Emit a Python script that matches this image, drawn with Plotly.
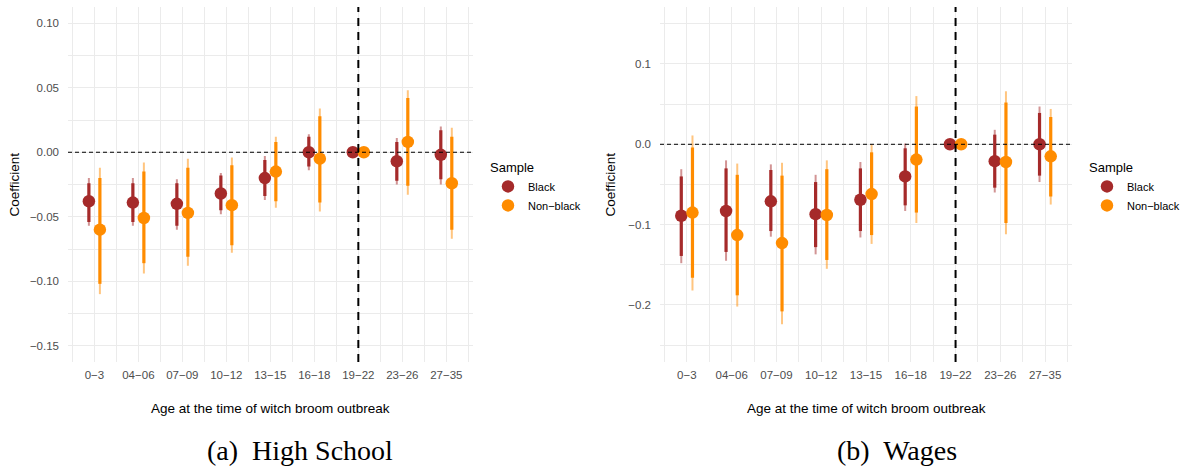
import plotly.graph_objects as go
import math

nan = float("nan")

categories = ["0\u22123", "04\u221206", "07\u221209", "10\u221212", "13\u221215",
              "16\u221218", "19\u221222", "23\u221226", "27\u221235"]

# Panel (a) High School
hs_black_coef = [-0.038, -0.039, -0.040, -0.032, -0.020, 0.000, 0.000, -0.007, -0.002]
hs_black_lo90 = [-0.054, -0.054, -0.057, -0.045, -0.034, -0.011, nan, -0.022, -0.021]
hs_black_hi90 = [-0.024, -0.024, -0.024, -0.018, -0.006, 0.012, nan, 0.008, 0.017]
hs_black_lo95 = [-0.057, -0.057, -0.060, -0.048, -0.037, -0.014, nan, -0.025, -0.025]
hs_black_hi95 = [-0.020, -0.020, -0.021, -0.016, -0.003, 0.014, nan, 0.011, 0.020]

hs_other_coef = [-0.060, -0.051, -0.047, -0.041, -0.015, -0.005, 0.000, 0.008, -0.024]
hs_other_lo90 = [-0.102, -0.086, -0.081, -0.072, -0.038, -0.039, nan, -0.026, -0.060]
hs_other_hi90 = [-0.020, -0.015, -0.012, -0.010, 0.008, 0.028, nan, 0.042, 0.012]
hs_other_lo95 = [-0.110, -0.094, -0.088, -0.078, -0.043, -0.046, nan, -0.033, -0.067]
hs_other_hi95 = [-0.012, -0.008, -0.005, -0.004, 0.012, 0.034, nan, 0.048, 0.019]

# Panel (b) Wages
w_black_coef = [-0.089, -0.083, -0.071, -0.087, -0.069, -0.040, 0.000, -0.021, 0.000]
w_black_lo90 = [-0.139, -0.134, -0.108, -0.128, -0.108, -0.076, nan, -0.054, -0.039]
w_black_hi90 = [-0.040, -0.030, -0.032, -0.047, -0.030, -0.005, nan, 0.012, 0.039]
w_black_lo95 = [-0.148, -0.145, -0.115, -0.137, -0.116, -0.083, nan, -0.060, -0.047]
w_black_hi95 = [-0.031, -0.020, -0.025, -0.038, -0.022, 0.001, nan, 0.018, 0.047]

w_other_coef = [-0.085, -0.113, -0.123, -0.088, -0.062, -0.019, 0.000, -0.022, -0.015]
w_other_lo90 = [-0.166, -0.188, -0.208, -0.144, -0.113, -0.085, nan, -0.098, -0.065]
w_other_hi90 = [-0.004, -0.038, -0.039, -0.031, -0.010, 0.047, nan, 0.052, 0.034]
w_other_lo95 = [-0.182, -0.202, -0.224, -0.155, -0.124, -0.098, nan, -0.112, -0.075]
w_other_hi95 = [0.011, -0.024, -0.023, -0.020, 0.000, 0.060, nan, 0.066, 0.044]

COL_BLACK = "#A52A2A"
COL_OTHER = "#FF8C00"
LIGHT_BLACK = "rgba(165,42,42,0.5)"
LIGHT_OTHER = "rgba(255,140,0,0.5)"
FONT = "Liberation Sans, Arial, sans-serif"
W, H = 1186, 471

xpos = list(range(1, len(categories) + 1))
DODGE = 0.125


def segs(xs, lo, hi):
    sx, sy = [], []
    for x, a, b in zip(xs, lo, hi):
        if math.isnan(a) or math.isnan(b):
            continue
        sx += [x, x, None]
        sy += [a, b, None]
    return sx, sy


fig = go.Figure()


def add_panel(xa, ya, legend, series):
    for name, coef, lo90, hi90, lo95, hi95, col, light, off in series:
        xs = [x + off for x in xpos]
        sx, sy = segs(xs, lo95, hi95)
        fig.add_trace(go.Scatter(x=sx, y=sy, mode="lines", xaxis=xa, yaxis=ya,
                                 line=dict(color=light, width=2), showlegend=False,
                                 hoverinfo="skip"))
        sx, sy = segs(xs, lo90, hi90)
        fig.add_trace(go.Scatter(x=sx, y=sy, mode="lines", xaxis=xa, yaxis=ya,
                                 line=dict(color=col, width=3.2), showlegend=False,
                                 hoverinfo="skip"))
    for name, coef, lo90, hi90, lo95, hi95, col, light, off in series:
        xs = [x + off for x in xpos]
        fig.add_trace(go.Scatter(x=xs, y=coef, mode="markers", xaxis=xa, yaxis=ya,
                                 name=name, legend=legend,
                                 marker=dict(color=col, size=12.5, line=dict(width=0))))


add_panel("x", "y", "legend", [
    ("Black", hs_black_coef, hs_black_lo90, hs_black_hi90, hs_black_lo95, hs_black_hi95,
     COL_BLACK, LIGHT_BLACK, -DODGE),
    ("Non\u2212black", hs_other_coef, hs_other_lo90, hs_other_hi90, hs_other_lo95, hs_other_hi95,
     COL_OTHER, LIGHT_OTHER, DODGE),
])
add_panel("x2", "y2", "legend2", [
    ("Black", w_black_coef, w_black_lo90, w_black_hi90, w_black_lo95, w_black_hi95,
     COL_BLACK, LIGHT_BLACK, -DODGE),
    ("Non\u2212black", w_other_coef, w_other_lo90, w_other_hi90, w_other_lo95, w_other_hi95,
     COL_OTHER, LIGHT_OTHER, DODGE),
])

GRID = "#EBEBEB"
ydom = [1 - 362 / H, 1 - 7 / H]


def xaxis_cfg(dom):
    return dict(domain=dom, range=[0.4, 9.6], tickmode="array", tickvals=xpos,
                ticktext=categories, showgrid=True, gridcolor=GRID, gridwidth=1.2,
                minor=dict(tickvals=[x + 0.5 for x in range(0, 10)], showgrid=True,
                           gridcolor=GRID, gridwidth=0.6),
                zeroline=False, showline=False, ticks="", ticklabelstandoff=4,
                tickfont=dict(family=FONT, size=11.5, color="#4D4D4D"), fixedrange=True)


def yaxis_cfg(anchor, rng, vals, minor_vals, fmt):
    return dict(domain=ydom, anchor=anchor, range=rng, tickmode="array", tickvals=vals,
                tickformat=fmt, showgrid=True, gridcolor=GRID, gridwidth=1.2,
                minor=dict(tickvals=minor_vals, showgrid=True, gridcolor=GRID, gridwidth=0.6),
                zeroline=False, showline=False, ticks="", ticklabelstandoff=8,
                tickfont=dict(family=FONT, size=11.5, color="#4D4D4D"), fixedrange=True)


fig.update_layout(
    width=W, height=H, margin=dict(l=0, r=0, t=0, b=0),
    paper_bgcolor="white", plot_bgcolor="white",
    xaxis=xaxis_cfg([68 / W, 472.7 / W]),
    yaxis=yaxis_cfg("x", [-0.1626, 0.1126], [-0.15, -0.10, -0.05, 0.0, 0.05, 0.10],
                    [-0.125, -0.075, -0.025, 0.025, 0.075], ".2f"),
    xaxis2=xaxis_cfg([660 / W, 1072 / W]) | dict(anchor="y2"),
    yaxis2=yaxis_cfg("x2", [-0.271, 0.1709], [-0.2, -0.1, 0.0, 0.1],
                     [-0.25, -0.15, -0.05, 0.05, 0.15], ".1f"),
    legend=dict(x=488 / W, y=1 - 155 / H, xanchor="left", yanchor="top",
                title=dict(text="Sample", font=dict(family=FONT, size=13, color="black")),
                font=dict(family=FONT, size=11, color="black"), bgcolor="rgba(0,0,0,0)",
                itemwidth=30, tracegroupgap=0),
    legend2=dict(x=1087 / W, y=1 - 155 / H, xanchor="left", yanchor="top",
                 title=dict(text="Sample", font=dict(family=FONT, size=13, color="black")),
                 font=dict(family=FONT, size=11, color="black"), bgcolor="rgba(0,0,0,0)",
                 itemwidth=30, tracegroupgap=0),
    showlegend=True,
)

# reference lines
for xa, ya in [("x", "y"), ("x2", "y2")]:
    fig.add_shape(type="line", xref=f"{xa} domain", yref=ya, x0=0, x1=1, y0=0, y1=0,
                  line=dict(color="black", width=1, dash="4px,3px"), layer="above")
    fig.add_shape(type="line", xref=xa, yref=f"{ya} domain", x0=7, x1=7, y0=0, y1=1,
                  line=dict(color="black", width=2, dash="8px,6px"), layer="above")

annos = [
    dict(text="Coefficient", x=14 / W, y=1 - 184.5 / H, textangle=-90, size=13.5, fam=FONT),
    dict(text="Coefficient", x=610 / W, y=1 - 184.5 / H, textangle=-90, size=13.5, fam=FONT),
    dict(text="Age at the time of witch broom outbreak", x=270 / W, y=1 - 408 / H, textangle=0,
         size=13.5, fam=FONT),
    dict(text="Age at the time of witch broom outbreak", x=866 / W, y=1 - 408 / H, textangle=0,
         size=13.5, fam=FONT),
    dict(text="(a)\u00a0 High School", x=300 / W, y=1 - 450 / H, textangle=0, size=28,
         fam="Liberation Serif, Times New Roman, serif"),
    dict(text="(b)\u00a0 Wages", x=897 / W, y=1 - 450 / H, textangle=0, size=28,
         fam="Liberation Serif, Times New Roman, serif"),
]
for a in annos:
    fig.add_annotation(text=a["text"], x=a["x"], y=a["y"], xref="paper", yref="paper",
                       xanchor="center", yanchor="middle", showarrow=False,
                       textangle=a["textangle"],
                       font=dict(family=a["fam"], size=a["size"], color="black"))

fig.write_html("out.html")
